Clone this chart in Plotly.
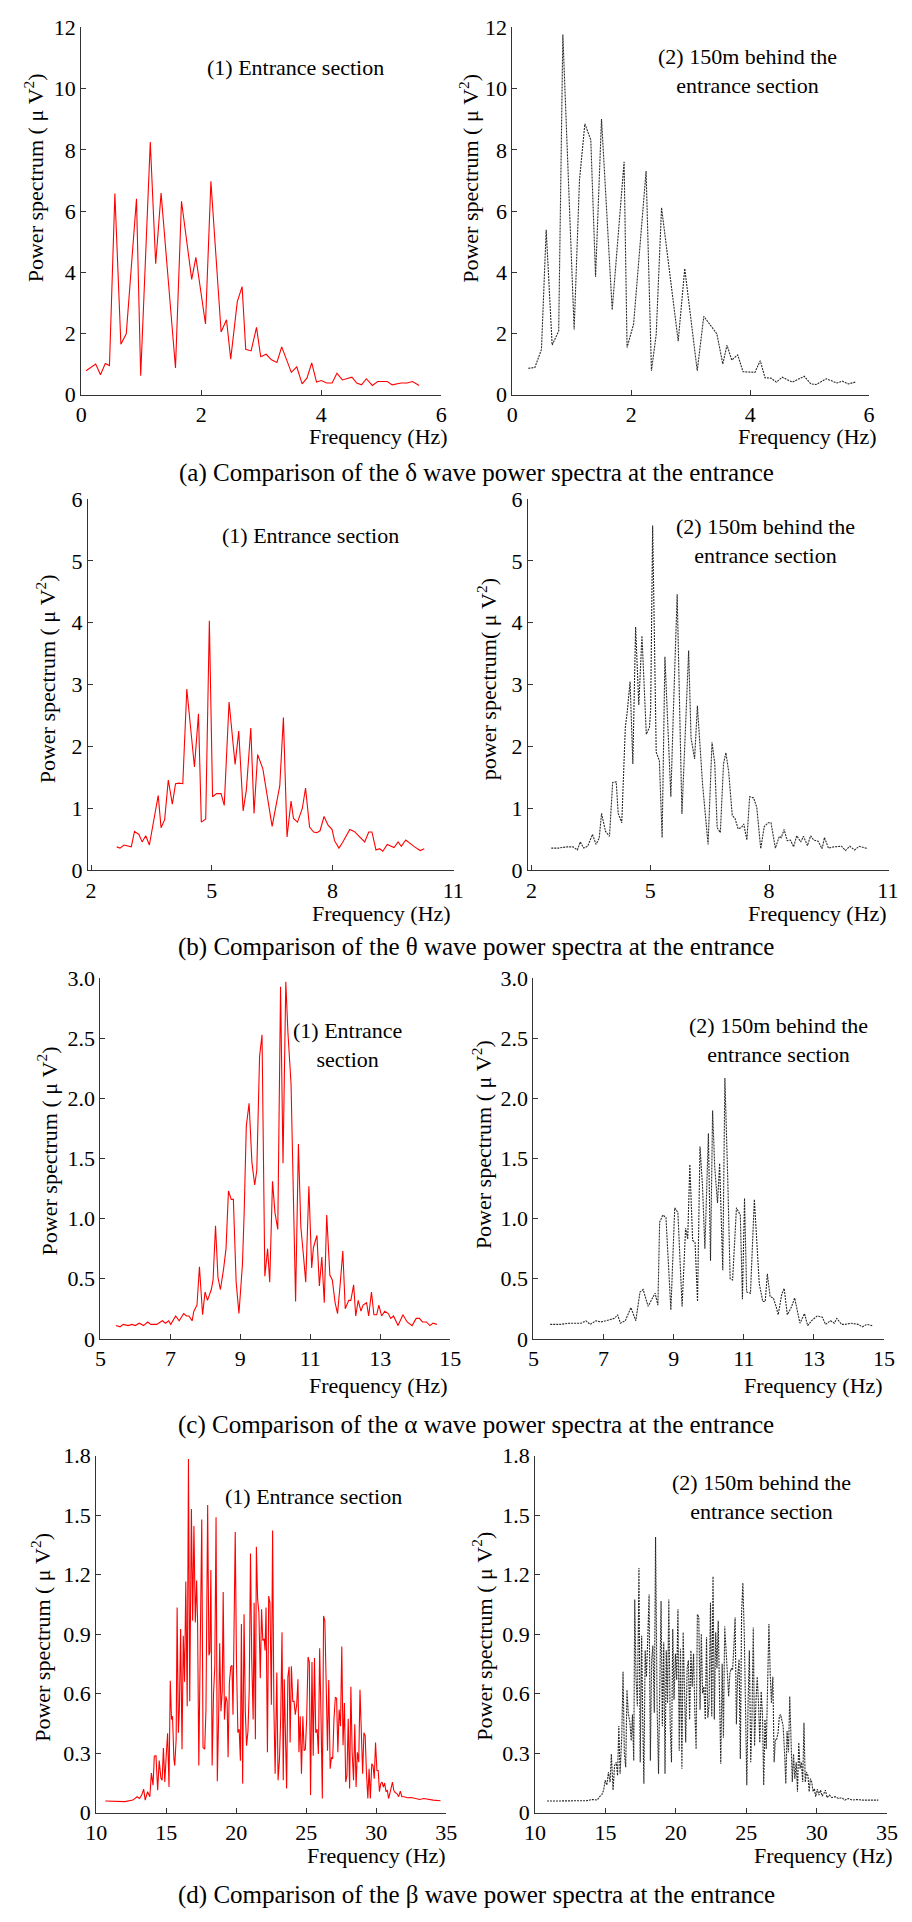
import plotly.graph_objects as go

# ---------------- data ----------------
# (a) delta wave
a1_f = [0.08,0.24,0.32,0.40,0.47,0.56,0.66,0.75,0.92,0.99,1.15,1.24,1.33,1.57,1.67,1.84,1.91,2.07,2.16,2.33,2.42,2.49,2.60,2.68,2.74,2.83,2.92,2.99,3.08,3.17,3.26,3.34,3.50,3.59,3.68,3.76,3.84,3.92,4.00,4.09,4.18,4.26,4.35,4.51,4.59,4.67,4.75,4.85,4.94,5.10,5.18,5.33,5.43,5.52,5.63]
a1_v = [0.78,1.00,0.65,1.02,0.95,6.57,1.65,1.99,6.40,0.62,8.26,4.28,6.59,0.87,6.32,3.77,4.49,2.31,6.97,2.05,2.45,1.16,3.04,3.53,1.48,1.43,2.20,1.24,1.32,1.14,1.05,1.56,0.73,0.91,0.35,0.54,1.04,0.41,0.46,0.38,0.38,0.70,0.48,0.57,0.38,0.32,0.52,0.30,0.43,0.43,0.32,0.38,0.38,0.43,0.30]
a2_f = [0.27,0.38,0.49,0.57,0.67,0.78,0.85,1.04,1.13,1.22,1.32,1.40,1.50,1.68,1.88,1.93,2.04,2.25,2.34,2.42,2.51,2.79,2.90,3.11,3.22,3.44,3.54,3.61,3.69,3.79,3.88,4.08,4.17,4.25,4.35,4.44,4.54,4.71,4.91,5.02,5.11,5.28,5.46,5.55,5.65,5.77]
a2_v = [0.86,0.89,1.48,5.39,1.62,2.08,11.77,2.13,7.02,8.85,8.33,3.85,9.01,2.77,7.61,1.54,2.31,7.31,0.78,1.97,6.11,1.75,4.12,0.78,2.56,1.99,1.00,1.62,1.13,1.30,0.75,0.73,1.11,0.55,0.54,0.41,0.57,0.41,0.60,0.35,0.33,0.52,0.38,0.44,0.35,0.41]

# (b) theta wave
b1_f = [2.64,2.72,2.82,3.00,3.08,3.19,3.27,3.36,3.45,3.67,3.74,3.83,3.92,4.02,4.10,4.19,4.28,4.38,4.57,4.67,4.74,4.85,4.94,5.02,5.12,5.23,5.31,5.43,5.58,5.67,5.78,5.86,5.97,6.05,6.14,6.27,6.50,6.61,6.69,6.78,6.87,6.97,7.03,7.13,7.25,7.33,7.43,7.53,7.61,7.69,7.79,7.89,7.99,8.05,8.16,8.25,8.43,8.54,8.80,8.90,8.98,9.08,9.17,9.25,9.36,9.53,9.63,9.71,9.82,10.04,10.18,10.28]
b1_v = [0.38,0.36,0.41,0.38,0.63,0.58,0.46,0.56,0.41,1.21,0.69,0.82,1.46,1.07,1.40,1.41,1.40,2.93,1.67,2.53,0.78,0.83,4.03,1.19,1.24,1.24,1.05,2.72,1.71,2.25,0.96,1.30,2.30,0.92,1.87,1.64,0.71,1.10,1.37,2.47,0.54,1.12,0.84,0.78,1.00,1.33,0.70,0.62,0.61,0.64,0.87,0.73,0.66,0.48,0.36,0.45,0.66,0.63,0.46,0.62,0.62,0.33,0.35,0.31,0.42,0.37,0.46,0.39,0.49,0.38,0.32,0.35]
b2_f = [2.50,2.68,2.89,3.05,3.16,3.23,3.32,3.42,3.54,3.63,3.71,3.77,3.87,3.97,4.05,4.14,4.19,4.28,4.37,4.42,4.49,4.56,4.63,4.71,4.79,4.90,4.98,5.01,5.06,5.15,5.23,5.30,5.37,5.52,5.58,5.68,5.80,5.89,5.97,6.03,6.12,6.19,6.32,6.46,6.56,6.63,6.69,6.77,6.85,6.91,6.98,7.07,7.14,7.22,7.30,7.36,7.44,7.51,7.61,7.69,7.79,7.88,7.98,8.05,8.16,8.26,8.31,8.38,8.46,8.54,8.62,8.70,8.80,8.87,8.97,9.05,9.13,9.24,9.34,9.40,9.50,9.63,9.83,9.93,10.04,10.16,10.28,10.49]
b2_v = [0.36,0.36,0.38,0.38,0.33,0.46,0.36,0.39,0.58,0.42,0.52,0.92,0.63,0.55,1.42,1.43,0.92,0.77,2.31,2.57,3.05,1.72,3.93,2.67,3.79,2.20,2.31,2.60,5.57,1.91,1.77,0.53,3.45,1.19,2.49,4.46,0.91,2.28,3.55,2.14,1.80,2.66,1.40,0.42,2.07,1.72,0.69,0.61,1.72,1.90,1.60,0.89,0.84,0.67,0.69,0.75,0.49,1.19,1.17,1.02,0.35,0.71,0.77,0.77,0.36,0.55,0.53,0.66,0.48,0.49,0.38,0.56,0.46,0.55,0.40,0.56,0.49,0.47,0.35,0.53,0.36,0.38,0.39,0.32,0.39,0.33,0.39,0.35]

# (c) alpha wave
c1_f = [5.44,5.56,5.65,5.79,5.90,5.99,6.11,6.23,6.35,6.44,6.61,6.77,6.86,6.95,7.01,7.15,7.25,7.38,7.46,7.53,7.62,7.67,7.76,7.83,7.92,7.99,8.06,8.17,8.22,8.29,8.36,8.43,8.52,8.59,8.66,8.74,8.80,8.88,8.96,9.06,9.11,9.17,9.25,9.33,9.41,9.47,9.55,9.62,9.70,9.78,9.84,9.92,9.99,10.07,10.15,10.22,10.30,10.36,10.45,10.52,10.58,10.66,10.73,10.80,10.87,10.96,11.04,11.09,11.19,11.26,11.33,11.40,11.47,11.56,11.63,11.71,11.78,11.86,11.93,12.00,12.10,12.16,12.24,12.30,12.37,12.45,12.51,12.61,12.67,12.75,12.82,12.90,12.96,13.04,13.13,13.23,13.30,13.38,13.51,13.65,13.77,13.91,14.03,14.12,14.21,14.32,14.42,14.51,14.62]
c1_v = [0.11,0.10,0.12,0.11,0.12,0.11,0.13,0.11,0.14,0.12,0.12,0.15,0.13,0.15,0.12,0.19,0.15,0.21,0.19,0.19,0.15,0.23,0.28,0.60,0.20,0.39,0.32,0.41,0.49,0.94,0.51,0.41,0.58,0.75,1.23,1.16,1.16,0.47,0.21,0.62,1.06,1.77,1.96,1.47,1.28,1.40,2.35,2.53,0.52,0.75,0.47,1.31,1.05,0.91,2.93,1.46,2.97,2.55,2.12,1.05,0.31,1.62,0.93,0.71,0.47,1.27,0.59,0.76,0.86,0.44,0.68,0.30,1.03,0.53,0.49,0.30,0.21,0.47,0.73,0.25,0.32,0.32,0.45,0.19,0.32,0.23,0.28,0.30,0.19,0.39,0.20,0.20,0.28,0.19,0.23,0.21,0.17,0.19,0.11,0.20,0.14,0.11,0.17,0.17,0.14,0.14,0.11,0.13,0.12]
c2_f = [5.48,5.76,6.04,6.36,6.50,6.62,6.78,6.92,7.06,7.20,7.31,7.40,7.48,7.62,7.78,7.92,8.04,8.13,8.27,8.47,8.55,8.60,8.69,8.78,8.84,8.92,9.03,9.12,9.24,9.34,9.40,9.46,9.54,9.61,9.68,9.75,9.82,9.89,9.99,10.05,10.11,10.17,10.25,10.31,10.40,10.46,10.54,10.61,10.68,10.79,10.90,10.96,11.02,11.08,11.19,11.30,11.44,11.54,11.61,11.67,11.75,11.84,11.92,11.98,12.08,12.15,12.24,12.35,12.45,12.52,12.60,12.73,12.82,12.93,13.09,13.24,13.33,13.47,13.58,13.65,13.79,13.89,14.07,14.26,14.38,14.51,14.66]
c2_v = [0.12,0.12,0.13,0.13,0.15,0.12,0.15,0.14,0.15,0.16,0.17,0.20,0.13,0.15,0.26,0.15,0.39,0.41,0.27,0.38,0.28,0.97,1.03,1.01,0.67,0.24,1.09,1.05,0.27,0.92,0.83,1.45,0.82,0.80,0.31,1.60,1.28,0.75,1.71,0.65,1.90,1.43,1.13,1.46,0.57,2.17,1.35,0.50,0.49,1.09,1.03,0.33,1.17,0.39,0.38,1.16,0.46,0.31,0.31,0.54,0.35,0.34,0.27,0.20,0.37,0.42,0.20,0.26,0.34,0.23,0.13,0.21,0.11,0.15,0.19,0.18,0.12,0.15,0.13,0.17,0.12,0.12,0.13,0.12,0.10,0.12,0.11]

# (d) beta wave
d1_f = [10.65,11.35,12.04,12.62,12.92,13.09,13.25,13.39,13.50,13.67,
        13.83,13.94,14.06,14.15,14.27,14.39,14.50,14.62,14.71,14.80,
        14.90,15.01,15.10,15.20,15.29,15.38,15.45,15.55,15.61,15.71,
        15.78,15.87,15.94,16.03,16.13,16.22,16.31,16.40,16.50,16.59,
        16.68,16.80,16.89,16.98,17.08,17.17,17.24,17.33,17.45,17.54,
        17.63,17.75,17.84,17.96,18.05,18.12,18.19,18.28,18.38,18.47,
        18.56,18.65,18.75,18.82,18.91,19.00,19.07,19.16,19.26,19.35,
        19.42,19.51,19.61,19.70,19.77,19.86,19.93,20.02,20.12,20.21,
        20.30,20.37,20.46,20.56,20.65,20.74,20.84,20.93,21.02,21.11,
        21.21,21.28,21.37,21.44,21.53,21.62,21.72,21.81,21.90,22.00,
        22.06,22.13,22.23,22.32,22.41,22.51,22.60,22.69,22.78,22.90,
        22.99,23.09,23.18,23.27,23.36,23.43,23.53,23.60,23.69,23.78,
        23.85,23.94,24.04,24.13,24.22,24.32,24.41,24.48,24.57,24.66,
        24.76,24.85,24.94,25.03,25.13,25.22,25.31,25.41,25.50,25.59,
        25.68,25.78,25.87,25.96,26.06,26.15,26.24,26.33,26.43,26.52,
        26.61,26.71,26.80,26.89,26.98,27.08,27.17,27.26,27.35,27.45,
        27.54,27.63,27.73,27.82,27.91,28.00,28.10,28.19,28.28,28.38,
        28.47,28.56,28.65,28.75,28.84,28.93,29.03,29.12,29.21,29.30,
        29.40,29.49,29.58,29.68,29.77,29.86,29.95,30.05,30.14,30.23,
        30.32,30.42,30.51,30.60,30.70,30.79,30.88,30.97,31.07,31.16,
        31.25,31.35,31.48,31.60,31.72,31.83,32.00,32.23,32.51,32.81,
        33.11,33.39,33.74,34.08,34.59]
d1_v = [0.058,0.056,0.055,0.063,0.080,0.071,0.088,0.118,0.063,0.105,
        0.080,0.199,0.138,0.284,0.287,0.113,0.262,0.174,0.163,0.325,
        0.154,0.299,0.400,0.129,0.665,0.469,0.486,0.270,0.237,0.370,
        1.034,0.403,0.519,0.926,0.320,0.892,0.660,1.166,0.536,1.783,
        0.561,1.531,0.967,1.445,0.959,1.170,0.967,0.237,0.967,1.478,
        0.328,0.320,0.519,1.551,0.793,0.810,1.224,0.237,0.602,0.735,
        1.490,0.158,0.503,0.854,0.511,0.610,1.113,0.469,0.586,0.561,
        0.279,0.652,0.735,0.743,0.494,1.000,1.415,0.751,0.403,0.420,
        0.262,0.951,0.146,1.000,0.511,0.337,0.411,0.619,1.307,0.768,
        0.469,1.058,0.370,1.340,1.075,1.009,0.677,1.025,0.868,0.876,
        0.818,1.034,0.304,1.092,1.058,0.544,1.423,0.536,0.196,0.707,
        0.163,0.270,0.486,0.909,0.163,0.672,0.403,0.121,0.685,0.735,
        0.353,0.738,0.561,0.561,0.494,0.544,0.672,0.304,0.486,0.196,
        0.486,0.312,0.320,0.469,0.785,0.760,0.088,0.760,0.287,0.780,
        0.403,0.420,0.295,0.829,0.469,0.071,0.992,0.967,0.635,0.312,
        0.669,0.221,0.279,0.270,0.469,0.582,0.577,0.304,0.519,0.436,
        0.838,0.340,0.552,0.154,0.187,0.473,0.121,0.635,0.304,0.163,
        0.445,0.129,0.304,0.254,0.619,0.403,0.196,0.403,0.387,0.204,
        0.071,0.221,0.071,0.246,0.237,0.171,0.353,0.212,0.212,0.105,
        0.146,0.154,0.129,0.149,0.105,0.113,0.071,0.096,0.121,0.154,
        0.113,0.101,0.096,0.080,0.108,0.080,0.080,0.075,0.076,0.071,
        0.066,0.071,0.066,0.063,0.060]
d2_f = [10.85,11.82,12.75,13.67,14.08,14.41,14.59,14.75,14.87,14.98,
        15.10,15.21,15.33,15.42,15.54,15.65,15.77,15.86,15.95,16.04,
        16.16,16.25,16.34,16.44,16.53,16.62,16.74,16.83,16.92,17.01,
        17.08,17.17,17.27,17.38,17.47,17.57,17.66,17.73,17.82,17.91,
        18.00,18.10,18.19,18.28,18.37,18.47,18.56,18.67,18.77,18.86,
        18.95,19.04,19.14,19.23,19.32,19.41,19.50,19.60,19.69,19.78,
        19.87,19.97,20.06,20.15,20.24,20.33,20.43,20.52,20.61,20.70,
        20.80,20.89,20.98,21.07,21.16,21.26,21.35,21.44,21.53,21.63,
        21.72,21.81,21.90,21.99,22.09,22.18,22.27,22.36,22.46,22.55,
        22.64,22.73,22.83,22.92,23.01,23.10,23.19,23.29,23.38,23.47,
        23.56,23.66,23.75,23.84,23.93,24.03,24.12,24.21,24.30,24.39,
        24.49,24.58,24.67,24.76,24.86,24.95,25.04,25.13,25.22,25.32,
        25.41,25.50,25.59,25.69,25.78,25.87,25.96,26.06,26.15,26.24,
        26.33,26.42,26.52,26.61,26.70,26.79,26.89,26.98,27.07,27.16,
        27.26,27.35,27.44,27.53,27.62,27.72,27.81,27.90,28.00,28.09,
        28.18,28.27,28.36,28.45,28.55,28.64,28.73,28.82,28.92,29.01,
        29.10,29.19,29.28,29.38,29.47,29.56,29.65,29.75,29.84,29.93,
        30.05,30.16,30.28,30.39,30.51,30.62,30.74,30.90,31.08,31.31,
        31.55,31.78,32.01,32.24,32.54,32.86,33.28,33.74,34.38]
d2_v = [0.058,0.058,0.060,0.060,0.066,0.063,0.080,0.091,0.113,0.163,
        0.138,0.204,0.154,0.295,0.113,0.237,0.254,0.187,0.436,0.196,
        0.387,0.710,0.304,0.229,0.619,0.503,0.453,0.362,0.494,0.262,
        1.075,0.685,0.536,1.233,0.254,0.892,0.420,0.146,0.818,0.685,
        0.868,1.100,0.262,0.768,0.843,0.503,1.390,0.528,0.196,0.718,
        1.067,0.436,0.859,0.196,0.818,0.552,1.075,0.436,0.254,0.926,
        0.569,0.801,0.669,1.025,0.312,0.826,0.221,0.909,0.669,0.353,
        0.723,0.768,0.469,0.818,0.635,0.801,0.503,0.320,1.000,0.984,
        0.519,0.901,0.602,0.635,0.469,0.884,0.478,0.544,1.058,0.486,
        1.191,0.469,0.909,0.727,0.967,0.635,0.246,0.751,0.378,0.939,
        0.785,0.702,0.586,0.702,0.727,0.718,0.834,0.984,0.445,0.685,
        0.773,0.270,1.009,1.158,0.901,0.602,0.138,0.552,0.818,0.254,
        0.486,0.934,0.337,0.561,0.685,0.552,0.353,0.610,0.503,0.138,
        0.469,0.320,0.635,0.951,0.702,0.552,0.685,0.254,0.370,0.370,
        0.403,0.486,0.494,0.461,0.436,0.304,0.146,0.411,0.304,0.586,
        0.287,0.154,0.295,0.171,0.254,0.105,0.353,0.221,0.254,0.154,
        0.453,0.154,0.204,0.187,0.105,0.171,0.154,0.105,0.121,0.080,
        0.118,0.088,0.113,0.083,0.096,0.113,0.075,0.088,0.075,0.080,
        0.071,0.075,0.063,0.071,0.063,0.066,0.063,0.063,0.063]

# tick values / labels
a_xticks = [0, 2, 4, 6]
a_yticks = [0, 2, 4, 6, 8, 10, 12]
b_xticks = [2, 5, 8, 11]
b_yticks = [0, 1, 2, 3, 4, 5, 6]
c_xticks = [5, 7, 9, 11, 13, 15]
c_yticks = [0, 0.5, 1.0, 1.5, 2.0, 2.5, 3.0]
c_ylabels = ["0", "0.5", "1.0", "1.5", "2.0", "2.5", "3.0"]
d_xticks = [10, 15, 20, 25, 30, 35]
d_yticks = [0, 0.3, 0.6, 0.9, 1.2, 1.5, 1.8]
d_ylabels = ["0", "0.3", "0.6", "0.9", "1.2", "1.5", "1.8"]

captions = [
    "(a) Comparison of the δ wave power spectra at the entrance",
    "(b) Comparison of the θ wave power spectra at the entrance",
    "(c) Comparison of the α wave power spectra at the entrance",
    "(d) Comparison of the β wave power spectra at the entrance",
]
YT = "Power spectrum ( μ V<sup>2</sup>)"
YT_b2 = "power spectrum( μ V<sup>2</sup>)"
XT = "Frequency (Hz)"
L1 = "(1) Entrance section"
L2 = "(2) 150m behind the<br>entrance section"

# ---------------- layout helpers ----------------
W, H = 912, 1922
FONT = "Liberation Serif, serif"
RED = "#ff0000"
DARK = "#2a2a2a"
AX = "#333333"

def px(x):
    return x / W

def py(y):
    return 1 - y / H

panels = [
    dict(x0=72, x1=441, yt=15.7, yb=387.7, xr=[0, 6], yr=[0, 12], xt=a_xticks, yt_=a_yticks, yl=None, f=a1_f, v=a1_v, c=RED, d="solid"),
    dict(x0=513.7, x1=879.3, yt=15.7, yb=387.7, xr=[0, 6], yr=[0, 12], xt=a_xticks, yt_=a_yticks, yl=None, f=a2_f, v=a2_v, c=DARK, d="2px,1px"),
    dict(x0=78.7, x1=454, yt=493.3, yb=869.7, xr=[1.92, 11.02], yr=[0, 6], xt=b_xticks, yt_=b_yticks, yl=None, f=b1_f, v=b1_v, c=RED, d="solid"),
    dict(x0=529.7, x1=899.3, yt=493.3, yb=869.7, xr=[1.91, 11.02], yr=[0, 6], xt=b_xticks, yt_=b_yticks, yl=None, f=b2_f, v=b2_v, c=DARK, d="2px,1px"),
    dict(x0=91.7, x1=450, yt=979, yb=1344.3, xr=[5, 15], yr=[0, 3], xt=c_xticks, yt_=c_yticks, yl=c_ylabels, f=c1_f, v=c1_v, c=RED, d="solid"),
    dict(x0=535.3, x1=894.7, yt=979, yb=1344.3, xr=[5, 15], yr=[0, 3], xt=c_xticks, yt_=c_yticks, yl=c_ylabels, f=c2_f, v=c2_v, c=DARK, d="2px,1px"),
    dict(x0=87.3, x1=446, yt=1462.7, yb=1824.3, xr=[10, 35], yr=[0, 1.8], xt=d_xticks, yt_=d_yticks, yl=d_ylabels, f=d1_f, v=d1_v, c=RED, d="solid"),
    dict(x0=537, x1=897.7, yt=1462.7, yb=1824.3, xr=[10, 35], yr=[0, 1.8], xt=d_xticks, yt_=d_yticks, yl=d_ylabels, f=d2_f, v=d2_v, c=DARK, d="2px,1px"),
]

fig = go.Figure()
layout = dict(
    width=W, height=H,
    margin=dict(l=0, r=0, t=0, b=0),
    paper_bgcolor="white", plot_bgcolor="white",
    showlegend=False,
    font=dict(family=FONT, size=22, color="black"),
)

for i, p in enumerate(panels, start=1):
    sfx = "" if i == 1 else str(i)
    fig.add_trace(go.Scatter(
        x=p["f"], y=p["v"], mode="lines",
        line=dict(color=p["c"], width=1.1, dash=p["d"]),
        xaxis="x" + sfx, yaxis="y" + sfx, hoverinfo="skip",
    ))
    common = dict(showgrid=False, zeroline=False, showline=True, linecolor=AX, linewidth=1,
                  ticks="inside", ticklen=5, tickwidth=1, tickcolor=AX,
                  tickfont=dict(family=FONT, size=22, color="black"), fixedrange=True)
    layout["xaxis" + sfx] = dict(
        domain=[px(p["x0"]), px(p["x1"])], range=p["xr"], anchor="y" + sfx,
        tickmode="array", tickvals=p["xt"], ticktext=[str(t) for t in p["xt"]], **common)
    yl = p["yl"] if p["yl"] is not None else [str(t) for t in p["yt_"]]
    layout["yaxis" + sfx] = dict(
        domain=[py(p["yb"]), py(p["yt"])], range=p["yr"], anchor="x" + sfx,
        tickmode="array", tickvals=p["yt_"], ticktext=yl, **common)

ann = []
def text(x, y, s, size=22, xanchor="center", angle=0):
    ann.append(dict(x=px(x), y=py(y), xref="paper", yref="paper", text=s, showarrow=False,
                    xanchor=xanchor, yanchor="middle", textangle=angle, align="center",
                    font=dict(family=FONT, size=size, color="black")))

# captions
for cy, cap in zip([467, 947.6, 1431.7, 1907.4], captions):
    text(477, cy, cap, size=25)

# x-axis titles (right aligned)
for (xr, yc) in [(450, 430), (889, 430), (453.3, 913.3), (899.3, 913.3),
                 (450, 1392), (895.3, 1392), (448.3, 1868.3), (906, 1868.3)]:
    text(xr, yc, XT, xanchor="right")

# y-axis titles
for (xc, yc, s) in [(23, 168, YT), (469.3, 168, YT), (36, 676, YT), (487.7, 676, YT_b2),
                    (37.3, 1154, YT), (482.7, 1148, YT), (30, 1647, YT), (482.7, 1646, YT)]:
    text(xc, yc, s, angle=-90)

# in-panel labels
text(291.7, 56.7, L1)
text(755, 59.7, L2)
text(306.7, 530.7, L1)
text(773.3, 536, L2)
text(345, 1046.3, "(1) Entrance<br>section")
text(786, 1042, L2)
text(310, 1504, L1)
text(769.3, 1504.5, L2)

layout["annotations"] = ann
fig.update_layout(**layout)
fig.write_html("out.html", config={"displayModeBar": False})
